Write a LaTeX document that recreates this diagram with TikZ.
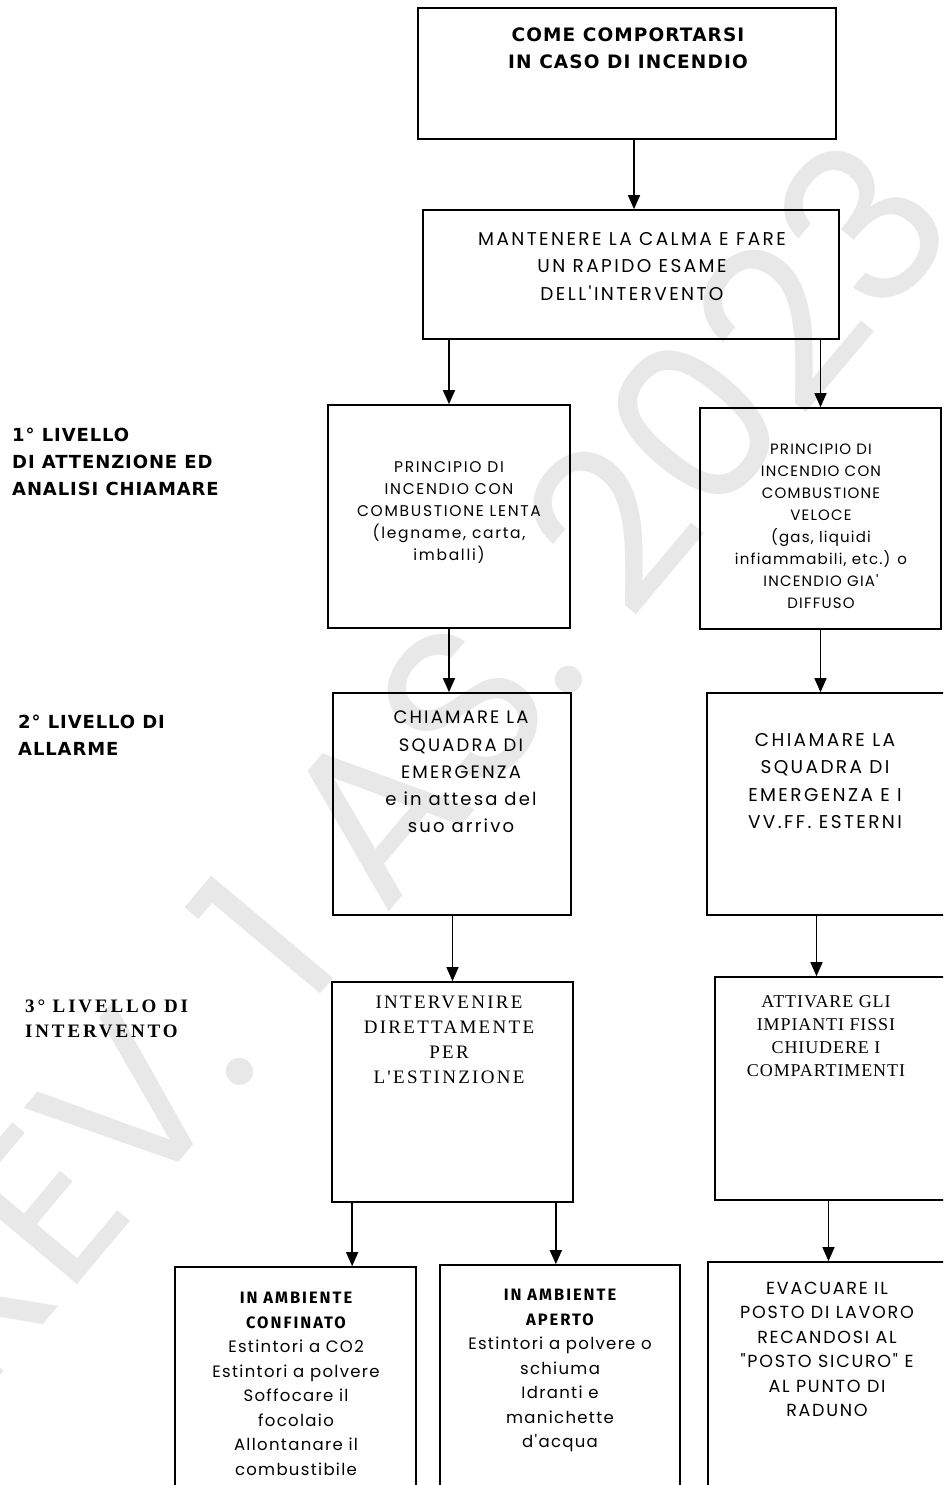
\documentclass[tikz,border=0pt]{standalone}
\usepackage{fontspec}
\usetikzlibrary{fit,arrows.meta}
\newfontfamily\gothic{Poppins}
\newfontfamily\ttlfont{DejaVu Sans}
\newfontfamily\lblfont{Fira Sans}
\newfontfamily\serifont{Liberation Serif}
\newcommand\ls[1]{\addfontfeatures{LetterSpace=#1}}
\tikzset{
  box/.style={draw=black, line width=1.7pt, inner sep=0pt, fill=none},
  arr/.style={line width=1.5pt, -{Triangle[width=12pt,length=14pt]}},
  txt/.style={anchor=north, inner sep=0pt, align=center},
  lbl/.style={anchor=north west, inner sep=0pt, align=left},
}
\begin{document}
\begin{tikzpicture}[x=1pt,y=-1pt]
\useasboundingbox (0,0) rectangle (943,1485);
\clip (0,0) rectangle (943,1485);
\fill[white] (0,0) rectangle (943,1485);
% watermark
\node[rotate=50, anchor=base west, text=black!9, font=\gothic\fontsize{220}{220}\selectfont, inner sep=0pt] (wm) at (-20,1400) {REV. 1 AS. 2023};
% boxes
\node[box, fit={(418,8) (836,139)}] (top) {};
\node[box, fit={(423,210) (839,339)}] (calm) {};
\node[box, fit={(328,405) (570,628)}] (lenta) {};
\node[box, fit={(700,408) (941,629)}] (veloce) {};
\node[box, fit={(333,693) (571,915)}] (sqL) {};
\node[box, fit={(707,693) (946,915)}] (sqR) {};
\node[box, fit={(332,982) (573,1202)}] (interv) {};
\node[box, fit={(715,977) (946,1200)}] (attiv) {};
\node[box, fit={(175,1267) (416,1510)}] (conf) {};
\node[box, fit={(440,1265) (680,1510)}] (aperto) {};
\node[box, fit={(708,1262) (946,1510)}] (evac) {};
% texts
\node[txt, font=\ttlfont\bfseries\fontsize{18.5}{27}\selectfont\ls{6}] (ttop) at (628,28) {COME COMPORTARSI\\IN CASO DI INCENDIO};
\node[txt, font=\gothic\fontsize{18.5}{27.5}\selectfont\ls{13}] (tcalm) at (632,232) {MANTENERE LA CALMA E FARE\\UN RAPIDO ESAME\\DELL'INTERVENTO};
\node[txt, font=\gothic\fontsize{15.5}{22}\selectfont\ls{11}] (tlenta) at (449,461) {PRINCIPIO DI\\INCENDIO CON\\COMBUSTIONE LENTA\\(legname, carta,\\imballi)};
\node[txt, font=\gothic\fontsize{15}{22}\selectfont\ls{8}] (tveloce) at (821,444) {PRINCIPIO DI\\INCENDIO CON\\COMBUSTIONE\\VELOCE\\(gas, liquidi\\infiammabili, etc.) o\\INCENDIO GIA'\\DIFFUSO};
\node[txt, font=\gothic\fontsize{18}{27.2}\selectfont\ls{12}] (tsqL) at (461,711) {CHIAMARE LA\\SQUADRA DI\\EMERGENZA\\e in attesa del\\suo arrivo};
\node[txt, font=\gothic\fontsize{18.5}{27.5}\selectfont\ls{13}] (tsqR) at (825,733) {CHIAMARE LA\\SQUADRA DI\\EMERGENZA E I\\VV.FF. ESTERNI};
\node[txt, font=\serifont\fontsize{19}{25}\selectfont\ls{12}] (tinterv) at (449,996) {INTERVENIRE\\DIRETTAMENTE\\PER\\L'ESTINZIONE};
\node[txt, font=\serifont\fontsize{18}{23}\selectfont\ls{5}] (tattiv) at (826,995) {ATTIVARE GLI\\IMPIANTI FISSI\\CHIUDERE I\\COMPARTIMENTI};
\node[txt, font=\gothic\fontsize{16.5}{24.5}\selectfont\ls{8}] (tconf) at (296,1292) {{\lblfont\bfseries\ls{12}IN AMBIENTE}\\{\lblfont\bfseries\ls{12}CONFINATO}\\Estintori a CO2\\Estintori a polvere\\Soffocare il\\focolaio\\Allontanare il\\combustibile};
\node[txt, font=\gothic\fontsize{16.5}{24.5}\selectfont\ls{8}] (taperto) at (560,1289) {{\lblfont\bfseries\ls{12}IN AMBIENTE}\\{\lblfont\bfseries\ls{12}APERTO}\\Estintori a polvere o\\schiuma\\Idranti e\\manichette\\d'acqua};
\node[txt, font=\gothic\fontsize{17.5}{24.4}\selectfont\ls{10}] (tevac) at (827,1282) {EVACUARE IL\\POSTO DI LAVORO\\RECANDOSI AL\\"POSTO SICURO" E\\AL PUNTO DI\\RADUNO};
% left labels
\node[lbl, font=\ttlfont\bfseries\fontsize{18}{27}\selectfont\ls{5}] (l1) at (12,428) {1° LIVELLO\\DI ATTENZIONE ED\\ANALISI CHIAMARE};
\node[lbl, font=\ttlfont\bfseries\fontsize{18}{26.5}\selectfont\ls{5}] (l2) at (18,715) {2° LIVELLO DI\\ALLARME};
\node[lbl, font=\serifont\bfseries\fontsize{19}{25}\selectfont\ls{15}] (l3) at (25,1000) {3° LIVELLO DI\\INTERVENTO};
% arrows
\draw[arr] ([xshift=7pt]top.south) -- ([xshift=3pt]calm.north);
\draw[arr] (calm.south -| lenta.north) -- (lenta.north);
\draw[arr] (calm.south -| veloce.north) -- (veloce.north);
\draw[arr] (lenta.south) -- (lenta.south |- sqL.north);
\draw[arr] (veloce.south) -- (veloce.south |- sqR.north);
\draw[arr] (sqL.south -| interv.north) -- (interv.north);
\draw[arr] ([xshift=-14pt]sqR.south -| attiv.north) -- ([xshift=-14pt]attiv.north);
\draw[arr] ([xshift=21pt]interv.south west) -- ([xshift=21pt]interv.south west |- conf.north);
\draw[arr] ([xshift=-18pt]interv.south east) -- ([xshift=-18pt]interv.south east |- aperto.north);
\draw[arr] ([xshift=-2pt]attiv.south) -- ([xshift=-2pt]attiv.south |- evac.north);
\end{tikzpicture}
\end{document}
